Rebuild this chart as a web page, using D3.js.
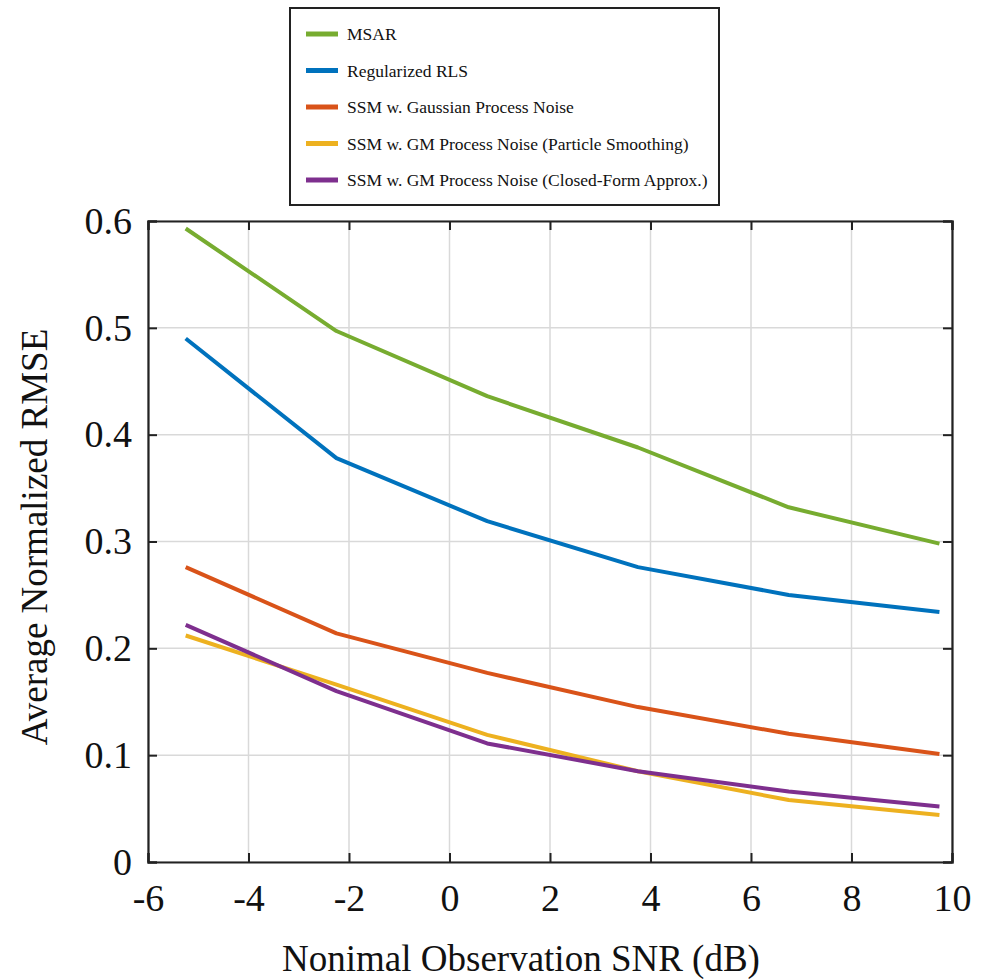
<!DOCTYPE html>
<html>
<head>
<meta charset="utf-8">
<script src="https://cdn.jsdelivr.net/npm/d3@7"></script>
<style>
  body { margin: 0; background: #fff; }
  svg text { font-family: "Liberation Serif", "Times New Roman", serif; fill: #111; }
</style>
</head>
<body>
<div id="chart"></div>
<script>
// data
const snr = [-5.25, -2.25, 0.75, 3.75, 6.75, 9.75]
const msar = [0.593, 0.497, 0.436, 0.388, 0.332, 0.298]
const rls = [0.490, 0.378, 0.319, 0.276, 0.250, 0.234]
const ssmGauss = [0.276, 0.214, 0.177, 0.145, 0.120, 0.101]
const ssmParticle = [0.212, 0.166, 0.119, 0.085, 0.058, 0.044]
const ssmClosed = [0.222, 0.160, 0.111, 0.085, 0.066, 0.052]
const seriesNames = ["MSAR", "Regularized RLS", "SSM w. Gaussian Process Noise",
  "SSM w. GM Process Noise (Particle Smoothing)", "SSM w. GM Process Noise (Closed-Form Approx.)"]
const colors = ["#77AC30", "#0072BD", "#D95319", "#EDB120", "#7E2F8E"]
const xTicks = [-6, -4, -2, 0, 2, 4, 6, 8, 10]
const yTicks = [0, 0.1, 0.2, 0.3, 0.4, 0.5, 0.6]

const W = 985, H = 979
const margin = {top: 221, right: 33, bottom: 117, left: 148}
const width = W - margin.left - margin.right,
    height = H - margin.top - margin.bottom

const svg = d3.select("#chart").append("svg")
    .attr("width", W)
    .attr("height", H)

const g = svg.append("g").attr("transform", `translate(${margin.left},${margin.top})`)

const x = d3.scaleLinear().domain([-6, 10]).range([0, width])
const y = d3.scaleLinear().domain([0, 0.6]).range([height, 0])

// grid
g.append("g").selectAll("line").data(xTicks).join("line")
    .attr("x1", d => x(d)).attr("x2", d => x(d))
    .attr("y1", 0).attr("y2", height)
    .attr("stroke", "#d9d9d9").attr("stroke-width", 1.5)
g.append("g").selectAll("line").data(yTicks).join("line")
    .attr("y1", d => y(d)).attr("y2", d => y(d))
    .attr("x1", 0).attr("x2", width)
    .attr("stroke", "#d9d9d9").attr("stroke-width", 1.5)

// axes (matlab style: ticks inward, box)
const tickLen = 9
const xAxis = g.append("g").attr("transform", `translate(0,${height})`)
    .call(d3.axisBottom(x).tickValues(xTicks).tickSize(-tickLen).tickPadding(22).tickFormat(d => String(d)))
const xTop = g.append("g")
    .call(d3.axisTop(x).tickValues(xTicks).tickSize(-tickLen).tickFormat(""))
const yAxis = g.append("g")
    .call(d3.axisLeft(y).tickValues(yTicks).tickSize(-tickLen).tickPadding(16).tickFormat(d => d === 0 ? "0" : d3.format(".1f")(d)))
const yRight = g.append("g").attr("transform", `translate(${width},0)`)
    .call(d3.axisRight(y).tickValues(yTicks).tickSize(-tickLen).tickFormat(""))

for (const a of [xAxis, xTop, yAxis, yRight]) {
  a.select(".domain").attr("stroke", "#222").attr("stroke-width", 2.2)
  a.selectAll(".tick line").attr("stroke", "#222").attr("stroke-width", 2)
  a.selectAll(".tick text").style("font-size", "38px").attr("fill", "#111")
}
xAxis.selectAll(".tick text").attr("dy", "0.71em")
yAxis.selectAll(".tick text").attr("dy", "0.32em")

// lines
const allSeries = [msar, rls, ssmGauss, ssmParticle, ssmClosed]
const line = d3.line().x(d => x(d[0])).y(d => y(d[1]))
allSeries.forEach((vals, i) => {
  g.append("path")
    .datum(snr.map((s, k) => [s, vals[k]]))
    .attr("fill", "none")
    .attr("stroke", colors[i])
    .attr("stroke-width", 4)
    .attr("stroke-linejoin", "round")
    .attr("d", line)
})

// axis titles
svg.append("text")
    .attr("x", 521)
    .attr("y", 971)
    .attr("text-anchor", "middle")
    .style("font-size", "37px")
    .text("Nonimal Observation SNR (dB)")

svg.append("text")
    .attr("transform", `translate(47,537) rotate(-90)`)
    .attr("text-anchor", "middle")
    .style("font-size", "37px")
    .text("Average Normalized RMSE")

// legend
const legend = svg.append("g").attr("transform", "translate(290,8)")
legend.append("rect")
    .attr("width", 429).attr("height", 197)
    .attr("fill", "#fff").attr("stroke", "#222").attr("stroke-width", 2)
const rowY = d3.scalePoint().domain(d3.range(seriesNames.length)).range([26, 172])
const item = legend.selectAll("g.item").data(seriesNames).join("g")
    .attr("class", "item")
    .attr("transform", (d, i) => `translate(0,${rowY(i)})`)
item.append("line")
    .attr("x1", 16).attr("x2", 48)
    .attr("stroke", (d, i) => colors[i]).attr("stroke-width", 5)
item.append("text")
    .attr("x", 57).attr("dy", "0.35em")
    .style("font-size", "17.5px")
    .text(d => d)
</script>
</body>
</html>
